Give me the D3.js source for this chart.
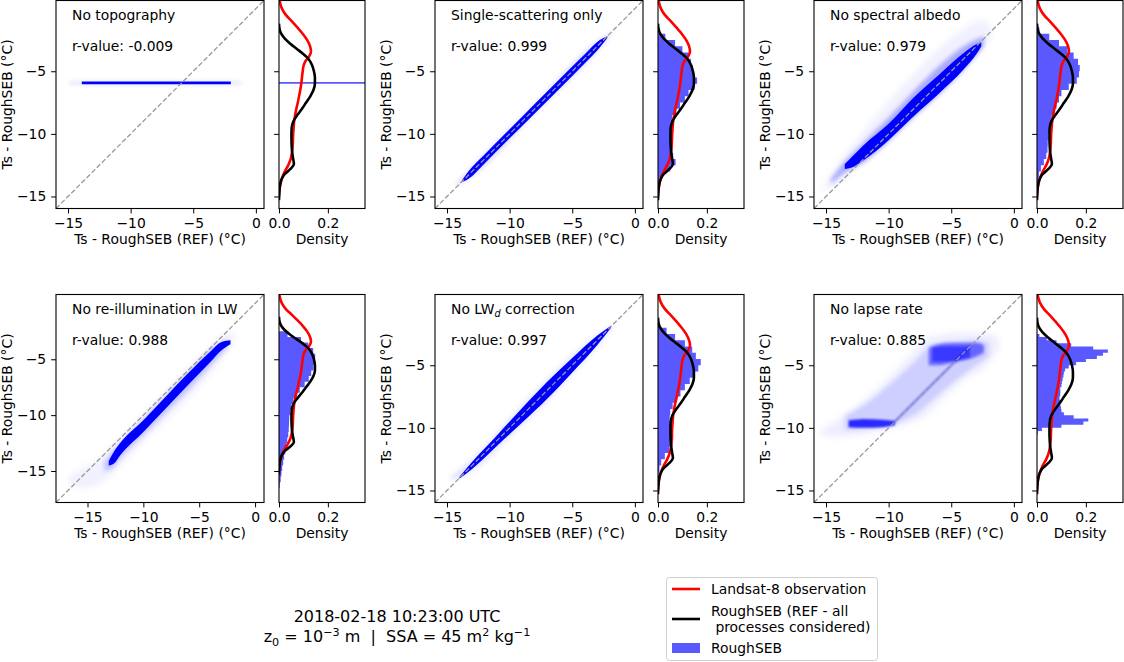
<!DOCTYPE html>
<html><head><meta charset="utf-8">
<script src="https://cdn.jsdelivr.net/npm/d3@7"></script>
<style>
body{margin:0;background:#fff}
svg{font-family:"DejaVu Sans",sans-serif}
text{white-space:pre}
</style></head><body>
<svg id="fig" width="1124" height="662"></svg>
<script>
// panel order: top row left->right, then bottom row
var titles = ["No topography","Single-scattering only","No spectral albedo","No re-illumination in LW","No LW_d correction","No lapse rate"];
var rvals = ["-0.009","0.999","0.979","0.988","0.997","0.885"];
var axLims = [[-15.96,0.65],[-15.96,0.65],[-15.96,0.65],[-17.82,0.8],[-15.96,0.65],[-15.96,0.65]];
var xTicks = [-15,-10,-5,0], yTicks = [-15,-10,-5], densTicks = [0,0.2];
var densLim = [0,0.352];

// KDE curves [Ts, density]
var obsKde = [[1.0,0.0],[0.6,0.003],[0.0,0.012],[-0.5,0.028],[-1.0,0.052],[-1.5,0.075],[-2.0,0.097],[-2.5,0.115],[-3.0,0.127],[-3.4,0.131],[-3.8,0.124],[-4.2,0.108],[-4.6,0.1],[-5.0,0.097],[-5.5,0.094],[-6.0,0.091],[-6.5,0.087],[-7.0,0.082],[-7.5,0.077],[-8.0,0.071],[-8.5,0.066],[-9.0,0.062],[-9.5,0.06],[-10.0,0.058],[-10.5,0.057],[-11.0,0.056],[-11.5,0.053],[-12.0,0.048],[-12.5,0.038],[-13.0,0.024],[-13.5,0.013],[-14.0,0.006],[-14.5,0.002],[-15.0,0.0]];
var refKde = [[-1.2,0.0],[-1.6,0.002],[-2.0,0.009],[-2.4,0.024],[-2.8,0.046],[-3.2,0.072],[-3.6,0.098],[-4.0,0.12],[-4.5,0.135],[-5.0,0.143],[-5.5,0.147],[-6.0,0.147],[-6.5,0.141],[-7.0,0.128],[-7.5,0.111],[-8.0,0.094],[-8.5,0.075],[-9.0,0.059],[-9.5,0.052],[-10.0,0.051],[-10.5,0.051],[-11.0,0.052],[-11.5,0.054],[-12.0,0.058],[-12.4,0.061],[-12.8,0.047],[-13.2,0.024],[-13.6,0.011],[-14.0,0.005],[-14.5,0.002],[-15.3,0.0]];

// histograms of each experiment: first bin edge, bin width, densities
var histTopo = {start:-6.0, step:0.14, dens:[4]};
var histSingle = {start:-14.0, step:0.5, dens:[0.006,0.02,0.05,0.072,0.062,0.056,0.053,0.051,0.05,0.052,0.058,0.075,0.09,0.11,0.125,0.15,0.16,0.148,0.142,0.135,0.125,0.1,0.07,0.03]};
var histAlbedo = {start:-14.0, step:0.5, dens:[0.004,0.008,0.016,0.028,0.038,0.043,0.044,0.046,0.05,0.056,0.06,0.068,0.08,0.09,0.1,0.13,0.163,0.172,0.175,0.168,0.15,0.125,0.09,0.05,0.01]};
var histReillum = {start:-16.5, step:0.5, dens:[0.003,0.007,0.01,0.013,0.017,0.021,0.026,0.03,0.034,0.038,0.04,0.041,0.042,0.046,0.05,0.058,0.07,0.085,0.105,0.122,0.132,0.14,0.146,0.148,0.14,0.12,0.09,0.035]};
var histLwd = {start:-14.0, step:0.5, dens:[0.002,0.006,0.013,0.028,0.045,0.058,0.062,0.055,0.05,0.048,0.05,0.06,0.075,0.092,0.11,0.13,0.148,0.165,0.175,0.155,0.14,0.11,0.07,0.035,0.005]};
var histLapse = {start:-10.5, step:0.25, dens:[0.003,0.02,0.1,0.19,0.21,0.15,0.11,0.1,0.098,0.095,0.094,0.092,0.095,0.096,0.095,0.1,0.102,0.105,0.108,0.11,0.115,0.13,0.16,0.2,0.245,0.27,0.29,0.23,0.14,0.08,0.04,0.01]};

var cloudTopo = [
  {op:0.15, b:2, pts:[[-14.9,-6.03,-5.83],[-1.2,-6.03,-5.83]]},
  {op:1, b:0.4, pts:[[-13.9,-6.04,-5.82],[-2.0,-6.04,-5.82]]}];
var cloudSingle = [
  {op:0.15, b:2, pts:[[-14.3,-14.2,-14.0],[-13,-13.4,-12.6],[-8,-8.4,-7.6],[-3,-3.4,-2.6],[-1.9,-2.1,-1.9]]},
  {op:1, b:0.5, pts:[[-13.8,-13.85,-13.7],[-13.3,-13.6,-13.0],[-12,-12.36,-11.64],[-10,-10.36,-9.64],[-8,-8.38,-7.62],[-6,-6.38,-5.62],[-4,-4.36,-3.64],[-2.8,-3.1,-2.5],[-2.2,-2.35,-2.2]]}];
var cloudAlbedo = [
  {op:0.06, b:3, pts:[[-15.2,-14.6,-14.2],[-14,-13.9,-12.4],[-12,-12.1,-9.8],[-10,-10.4,-7.4],[-8,-8.5,-5.2],[-6,-6.6,-3.2],[-4,-4.7,-1.6],[-2.5,-3.1,-0.9],[-1.8,-2.4,-1.4]]},
  {op:0.3, b:2, pts:[[-14.6,-14.0,-13.6],[-13.5,-13.1,-12.2],[-12,-12.3,-10.7],[-10,-10.6,-8.7],[-8,-8.7,-6.6],[-6,-6.9,-4.6],[-4,-4.9,-3.0],[-2.4,-3.0,-2.2]]},
  {op:1, b:0.6, pts:[[-13.5,-12.8,-12.4],[-13,-12.7,-11.9],[-12,-12.1,-10.9],[-10,-10.5,-9.2],[-8,-8.6,-7.1],[-6,-6.8,-5.3],[-4,-4.85,-3.55],[-3,-3.65,-2.85],[-2.6,-3.0,-2.7]]}];
var cloudReillum = [
  {op:0.06, b:3, pts:[[-16.7,-16.2,-15.6],[-15.5,-16.5,-14.8],[-14,-16.2,-14.0],[-13,-15.4,-12.9],[-11,-13.4,-11.1],[-9,-11.4,-9.1],[-7,-9.5,-7.0],[-5,-7.4,-5.0],[-3,-5.0,-3.0],[-1.8,-3.2,-2.6]]},
  {op:0.2, b:2, pts:[[-13.5,-15.0,-14.2],[-12.8,-14.8,-13.3],[-12,-13.8,-12.4],[-10,-11.8,-10.3],[-8,-9.8,-8.2],[-6,-7.8,-6.1],[-4,-5.6,-4.1],[-2.5,-4.0,-3.2]]},
  {op:1, b:0.6, pts:[[-13.1,-14.5,-14.1],[-12.6,-14.3,-13.2],[-12,-13.5,-12.4],[-10,-11.5,-10.45],[-8,-9.4,-8.35],[-6,-7.3,-6.25],[-4,-5.25,-4.3],[-3,-4.2,-3.45],[-2.2,-3.65,-3.3]]}];
var cloudLwd = [
  {op:0.12, b:2.5, pts:[[-14.7,-14.2,-13.9],[-13,-13.45,-12.55],[-10,-10.7,-9.3],[-7,-7.85,-6.15],[-4,-4.6,-3.4],[-1.6,-1.85,-1.7]]},
  {op:1, b:0.6, pts:[[-14.0,-14.05,-13.9],[-13,-13.28,-12.72],[-11,-11.42,-10.58],[-9,-9.58,-8.42],[-7,-7.68,-6.32],[-5,-5.58,-4.42],[-3,-3.38,-2.62],[-1.9,-2.0,-1.85]]}];
var cloudLapse = [
  {op:0.07, b:3, pts:[[-15.4,-10.6,-10.2],[-14,-10.7,-9.3],[-12,-10.5,-7.8],[-10,-10.1,-6.0],[-8,-9.5,-3.9],[-7,-9.0,-2.9],[-6,-8.0,-2.6],[-4,-6.2,-2.4],[-2,-4.8,-2.5],[-1.2,-3.6,-2.8]]},
  {op:0.13, b:2, pts:[[-13.5,-10.2,-9.0],[-12,-10.1,-8.2],[-10,-9.8,-6.6],[-8,-9.0,-4.8],[-6.5,-7.8,-3.4],[-5,-6.5,-3.2],[-3,-5.0,-3.0],[-2,-4.3,-3.2]]},
  {op:0.8, b:1.2, pts:[[-13.2,-9.95,-9.4],[-12,-10.0,-9.3],[-10.5,-9.95,-9.35],[-9.5,-9.8,-9.45]]},
  {op:0.5, b:1.5, pts:[[-6.8,-5.0,-3.6],[-6,-5.0,-3.3],[-5,-4.8,-3.2],[-4,-4.6,-3.2],[-3,-4.3,-3.2],[-2.4,-4.0,-3.4]]},
  {op:0.45, b:1.2, pts:[[-6.5,-4.7,-3.6],[-5.5,-4.7,-3.5],[-4.5,-4.6,-3.5],[-3.5,-4.4,-3.5]]},
  {op:0.4, b:0.8, pts:[[-9.6,-9.72,-9.48],[-3.5,-3.62,-3.38]]}];

var hists = [histTopo,histSingle,histAlbedo,histReillum,histLwd,histLapse];
var clouds = [cloudTopo,cloudSingle,cloudAlbedo,cloudReillum,cloudLwd,cloudLapse];

var svg = d3.select("#fig");
var fs = "13.89px";
var colX = [56,435,814], rowY = [0,294], S = 208, dLeft = [279,658,1037], dW = 86;

// blur filters for the point clouds
var defs = svg.append("defs");
[0.4,0.5,0.6,0.8,1.2,1.5,2,2.5,3].forEach(function(b){
  defs.append("filter").attr("id","bl"+String(b).replace(".","_"))
    .attr("filterUnits","userSpaceOnUse").attr("x",0).attr("y",0).attr("width",1124).attr("height",662)
    .append("feGaussianBlur").attr("stdDeviation",b);
});

function styleAxis(g){
  g.attr("font-size",null).attr("font-family",null);
  g.select(".domain").remove();
  g.selectAll(".tick line").attr("stroke","#000").attr("stroke-width",1);
  g.selectAll("text").attr("fill","#000").style("font-size",fs);
}
function frame(x,y,w,h){
  svg.append("rect").attr("x",x).attr("y",y).attr("width",w).attr("height",h)
    .attr("fill","none").attr("stroke","#000").attr("stroke-width",1.1);
}

titles.forEach(function(t,i){
  var col = i%3, row = Math.floor(i/3);
  var x0 = colX[col], y0 = rowY[row] + 0.5, lim = axLims[i];
  var x = d3.scaleLinear().domain(lim).range([x0,x0+S]);
  var y = d3.scaleLinear().domain(lim).range([y0+S,y0]);

  // scatter panel
  svg.append("clipPath").attr("id","cs"+i).append("rect").attr("x",x0).attr("y",y0).attr("width",S).attr("height",S);
  var g = svg.append("g").attr("clip-path","url(#cs"+i+")");
  var area = d3.area().x(function(d){return x(d[0]);}).y0(function(d){return y(d[1]);}).y1(function(d){return y(d[2]);}).curve(d3.curveMonotoneX);
  clouds[i].forEach(function(l){
    g.append("path").datum(l.pts).attr("d",area).attr("fill","#0000ff").attr("fill-opacity",l.op)
      .attr("filter","url(#bl"+String(l.b).replace(".","_")+")");
  });
  g.append("line").attr("x1",x(lim[0])).attr("y1",y(lim[0])).attr("x2",x(lim[1])).attr("y2",y(lim[1]))
    .attr("stroke","#999").attr("stroke-width",1.3).attr("stroke-dasharray","5,2.2");

  svg.append("g").attr("transform","translate(0,"+(y0+S)+")")
    .call(d3.axisBottom(x).tickValues(xTicks).tickSize(4.9).tickPadding(4.9).tickFormat(d3.format("d"))).call(styleAxis);
  svg.append("g").attr("transform","translate("+x0+",0)")
    .call(d3.axisLeft(y).tickValues(yTicks).tickSize(4.9).tickPadding(4.9).tickFormat(d3.format("d"))).call(styleAxis);
  frame(x0,y0,S,S);

  var tt = svg.append("text").attr("x",x0+16).attr("y",y0+19.5).style("font-size",fs);
  var parts = t.split("_");
  tt.append("tspan").text(parts[0]);
  if (parts.length > 1) {
    tt.append("tspan").attr("dy",3).style("font-size","9.7px").style("font-style","italic").text(parts[1].charAt(0));
    tt.append("tspan").attr("dy",-3).text(parts[1].slice(1));
  }
  svg.append("text").attr("x",x0+16).attr("y",y0+50).style("font-size",fs).text("r-value: "+rvals[i]);

  svg.append("text").attr("x",x0+S/2).attr("y",y0+243.5).attr("text-anchor","middle").style("font-size",fs)
    .text("Ts - RoughSEB (REF) (\u00b0C)");
  svg.append("text").attr("transform","translate("+(x0-44)+","+(y0+S/2)+") rotate(-90)")
    .attr("text-anchor","middle").style("font-size",fs).text("Ts - RoughSEB (\u00b0C)");

  // density panel
  var dl = dLeft[col];
  var dx = d3.scaleLinear().domain(densLim).range([dl,dl+dW]);
  svg.append("clipPath").attr("id","cd"+i).append("rect").attr("x",dl).attr("y",y0).attr("width",dW).attr("height",S);
  var gd = svg.append("g").attr("clip-path","url(#cd"+i+")");
  var h = hists[i], p = d3.path();
  p.moveTo(dx(0), y(h.start));
  h.dens.forEach(function(v,k){
    p.lineTo(dx(v), y(h.start+k*h.step));
    p.lineTo(dx(v), y(h.start+(k+1)*h.step));
  });
  p.lineTo(dx(0), y(h.start+h.dens.length*h.step));
  p.closePath();
  gd.append("path").attr("d",p.toString()).attr("fill","#5959ff");
  var kline = d3.line().x(function(d){return dx(d[1]);}).y(function(d){return y(d[0]);}).curve(d3.curveMonotoneY);
  gd.append("path").datum(obsKde).attr("d",kline).attr("fill","none").attr("stroke","#ff0000").attr("stroke-width",2.6);
  gd.append("path").datum(refKde).attr("d",kline).attr("fill","none").attr("stroke","#000").attr("stroke-width",2.6);

  svg.append("g").attr("transform","translate(0,"+(y0+S)+")")
    .call(d3.axisBottom(dx).tickValues(densTicks).tickSize(4.9).tickPadding(4.9).tickFormat(d3.format(".1f"))).call(styleAxis);
  svg.append("g").attr("transform","translate("+dl+",0)")
    .call(d3.axisLeft(y).tickValues(yTicks).tickSize(4.9).tickFormat("")).call(styleAxis);
  frame(dl,y0,dW,S);
  svg.append("text").attr("x",dl+dW/2).attr("y",y0+243.5).attr("text-anchor","middle").style("font-size",fs).text("Density");
});

// footer
svg.append("text").attr("x",397).attr("y",622).attr("text-anchor","middle").style("font-size","16px").text("2018-02-18 10:23:00 UTC");
var ft = svg.append("text").attr("x",397).attr("y",642).attr("text-anchor","middle").style("font-size","16px");
[["z",0],["0",4,1],[" = 10",-4],["\u22123",-6,1],[" m  |  SSA = 45 m",6],["2",-6,1],[" kg",6],["\u22121",-6,1]].forEach(function(s){
  var ts = ft.append("tspan").attr("dy",s[1]).text(s[0]);
  if (s[2]) ts.style("font-size","11.2px");
});

// legend
var lg = svg.append("g");
lg.append("rect").attr("x",666.5).attr("y",577.5).attr("width",211).attr("height",83).attr("rx",3)
  .attr("fill","#fff").attr("stroke","#d0d0d0");
lg.append("line").attr("x1",672).attr("x2",700).attr("y1",589).attr("y2",589).attr("stroke","#ff0000").attr("stroke-width",2.6);
lg.append("text").attr("x",711).attr("y",594).style("font-size",fs).text("Landsat-8 observation");
lg.append("line").attr("x1",672).attr("x2",700).attr("y1",619).attr("y2",619).attr("stroke","#000").attr("stroke-width",2.6);
lg.append("text").attr("x",711).attr("y",616).style("font-size",fs).text("RoughSEB (REF - all");
lg.append("text").attr("x",711).attr("y",632).style("font-size",fs).text(" processes considered)");
lg.append("rect").attr("x",672).attr("y",643).attr("width",28).attr("height",10).attr("fill","#5959ff");
lg.append("text").attr("x",711).attr("y",653).style("font-size",fs).text("RoughSEB");
</script>
</body></html>
